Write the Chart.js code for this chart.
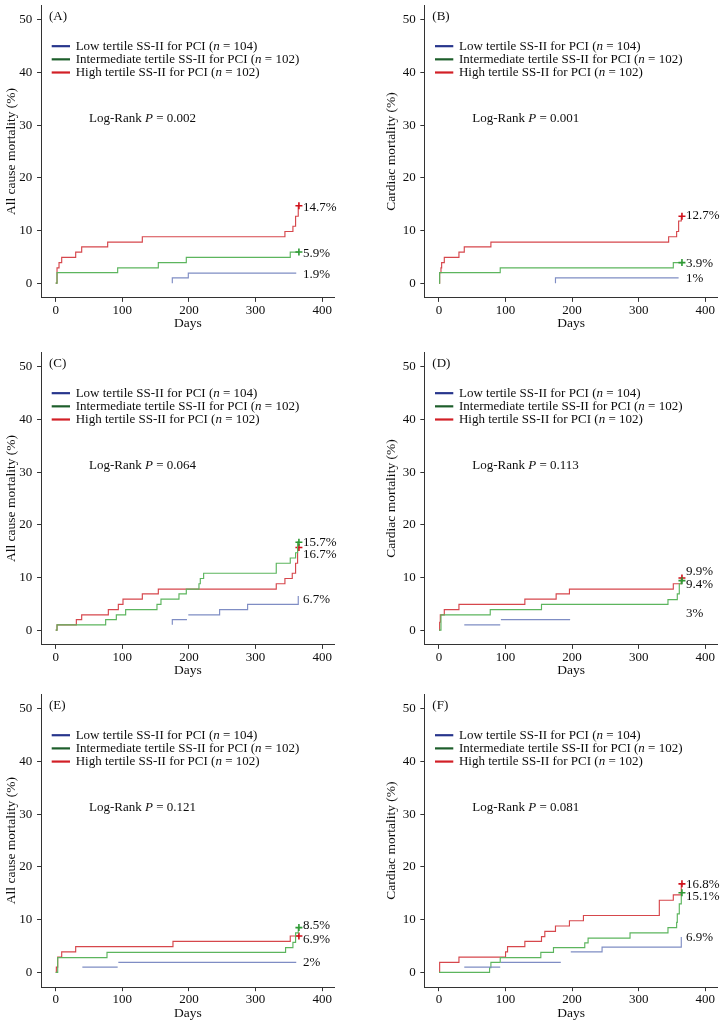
<!DOCTYPE html>
<html>
<head>
<meta charset="utf-8">
<script src="https://cdn.jsdelivr.net/npm/chart.js@4.4.1/dist/chart.umd.min.js"></script>
<style>
  html, body { margin: 0; padding: 0; background: #fff; }
  body { position: relative; width: 723px; height: 1024px; overflow: hidden; }
  canvas { position: absolute; }
</style>
</head>
<body>
<script>
// ticks and labels
const xTicks = [0, 100, 200, 300, 400];
const yTicks = [0, 10, 20, 30, 40, 50];
const groupNames = ['Low tertile SS-II for PCI', 'Intermediate tertile SS-II for PCI', 'High tertile SS-II for PCI'];
const groupN = [104, 102, 102];
const panelTags = ['(A)', '(B)', '(C)', '(D)', '(E)', '(F)'];
const yTitles = ['All cause mortality (%)', 'Cardiac mortality (%)', 'All cause mortality (%)',
                 'Cardiac mortality (%)', 'All cause mortality (%)', 'Cardiac mortality (%)'];
const logRankP = ['0.002', '0.001', '0.064', '0.113', '0.121', '0.081'];

// Kaplan-Meier curves, [day, cumulative %]; null breaks the line
const aLow  = [[175, 0], [175, 1], [199, 1.9], [361, 1.9]];
const aMid  = [[0, 0], [2, 2], [93, 2.9], [154, 3.9], [196, 4.9], [352, 5.9], [365, 5.9]];
const aHigh = [[0, 0], [2, 2.9], [5, 3.9], [9, 4.9], [30, 5.9], [39, 6.9], [78, 7.8], [130, 8.8],
               [344, 9.8], [356, 10.8], [360, 12.7], [364, 14.7], [365, 14.7]];

const bLow  = [[175, 0], [175, 1], [360, 1]];
const bMid  = [[0, 0], [1, 2], [92, 2.9], [352, 3.9], [365, 3.9]];
const bHigh = [[0, 0], [1, 2], [3, 2.9], [4, 3.9], [8, 4.9], [30, 5.9], [38, 6.9], [78, 7.8],
               [345, 8.8], [357, 9.8], [360, 11.8], [364, 12.7], [365, 12.7]];

const cLow  = [[175, 1], [175, 2], [197, 2], [198, null], [199, 2.9], [246, 3.9], [288, 4.9],
               [364, 4.9], [364, 6.5]];
const cMid  = [[0, 0], [2, 1], [75, 2], [91, 2.9], [105, 3.9], [152, 4.9], [158, 5.9], [185, 6.9],
               [196, 7.8], [215, 8.8], [217, 9.8], [222, 10.8], [331, 12.7], [352, 13.7],
               [360, 14.7], [363, 16.7], [365, 16.7]];
const cHigh = [[0, 0], [2, 1], [31, 2], [39, 2.9], [79, 3.9], [94, 4.9], [101, 5.9], [130, 6.9],
               [154, 7.8], [331, 8.8], [344, 9.8], [355, 10.8], [360, 12.7], [363, 15.7], [365, 15.7]];

const dLow  = [[38, 1], [92, 1], [92.5, null], [93, 2], [197, 2]];
const dMid  = [[0, 0], [3, 2.9], [77, 3.9], [154, 4.9], [344, 5.8], [358, 6.9], [361, 8.8],
               [364, 9.4], [365, 9.4]];
const dHigh = [[0, 0], [1, 1.5], [2, 2.9], [8, 3.9], [30, 4.9], [129, 5.9], [176, 6.9], [196, 7.8],
               [352, 8.8], [364, 9.9], [365, 9.9]];

const eLow  = [[40, 1], [93, 1], [93.5, null], [94, 1.9], [361, 1.9]];
const eMid  = [[0, 0], [3, 2.8], [77, 3.8], [345, 4.7], [356, 5.7], [360, 7.5], [364, 8.5], [365, 8.5]];
const eHigh = [[0, 0], [1, 1], [3, 2.9], [9, 3.9], [30, 4.9], [176, 5.9], [352, 6.9], [365, 6.9]];

const fLow  = [[38, 1], [92, 1], [92.5, null], [93, 1.9], [183, 1.9], [190, null], [198, 3.9],
               [245, 4.8], [364, 4.8], [364, 6.7]];
const fMid  = [[0, 0], [76, 0.9], [78, 1.9], [92, 2.8], [153, 3.8], [172, 4.7], [219, 5.6], [224, 6.5],
               [287, 7.5], [344, 8.5], [357, 9.5], [358, 11.1], [361, 13], [364, 15.1], [365, 15.1]];
const fHigh = [[0, 0], [1, 1.9], [30, 2.9], [100, 3.9], [103, 4.9], [129, 5.9], [154, 6.8], [159, 7.8],
               [175, 8.8], [196, 9.8], [217, 10.8], [331, 13.7], [352, 14.7], [364, 16.8], [365, 16.8]];

// end-of-curve labels, [text, height in %]
const aEnds = [['14.7%', 14.4], ['5.9%', 5.6], ['1.9%', 1.6]];
const bEnds = [['12.7%', 12.8], ['3.9%', 3.7], ['1%', 0.9]];
const cEnds = [['15.7%', 16.6], ['16.7%', 14.4], ['6.7%', 5.8]];
const dEnds = [['9.9%', 11.1], ['9.4%', 8.7], ['3%', 3.1]];
const eEnds = [['8.5%', 8.8], ['6.9%', 6.3], ['2%', 1.9]];
const fEnds = [['16.8%', 16.6], ['15.1%', 14.4], ['6.9%', 6.6]];

const panelCurves = [[aLow, aMid, aHigh], [bLow, bMid, bHigh], [cLow, cMid, cHigh],
                     [dLow, dMid, dHigh], [eLow, eMid, eHigh], [fLow, fMid, fHigh]];
const panelEnds = [aEnds, bEnds, cEnds, dEnds, eEnds, fEnds];

// look
const FONT = '"Liberation Serif", "Times New Roman", serif';
const INK = '#0d0d0d';
const AXIS = '#333333';
const lineColors = ['#7f8dc4', '#5cb55e', '#d6474c'];
const keyColors = ['#27358c', '#1d5e2b', '#d21f26'];
const crossColors = [null, '#2f9a35', '#d0101a'];

// page geometry
const colZero = [55.7, 439];        // pixel of day 0
const rowZero = [283, 630, 972.3];  // pixel of 0 %
const PX_DAY = 0.6667, PX_PCT = 5.314;
const X_MIN = -22, X_MAX = 419, Y_MIN = -2.8, Y_MAX = 52.8;
const Y_BOX = 45, X_BOX = 34;
const yTitleGap = [29.3, 32.6];

function rich(ctx, parts, x, y) {
  let cx = x;
  parts.forEach(([t, it]) => {
    ctx.font = (it ? 'italic ' : '') + '13px ' + FONT;
    ctx.fillText(t, cx, y);
    cx += ctx.measureText(t).width;
  });
}

function notes(i) {
  return {
    id: 'notes' + i,
    afterDraw(chart) {
      const { ctx, scales: { x, y } } = chart;
      ctx.save();
      ctx.fillStyle = INK;
      ctx.textBaseline = 'middle';
      ctx.textAlign = 'left';
      rich(ctx, [[panelTags[i], false]], x.getPixelForValue(-10), y.getPixelForValue(50.6));
      groupNames.forEach((name, k) => {
        const yy = y.getPixelForValue(45 - 2.5 * k);
        ctx.strokeStyle = keyColors[k];
        ctx.lineWidth = 2.2;
        ctx.beginPath();
        ctx.moveTo(x.getPixelForValue(-6), yy);
        ctx.lineTo(x.getPixelForValue(21.5), yy);
        ctx.stroke();
        rich(ctx, [[name + ' (', false], ['n', true], [' = ' + groupN[k] + ')', false]],
             x.getPixelForValue(30), yy);
      });
      rich(ctx, [['Log-Rank ', false], ['P', true], [' = ' + logRankP[i], false]],
           x.getPixelForValue(50), y.getPixelForValue(31.2));
      panelEnds[i].forEach(([t, v]) => rich(ctx, [[t, false]], x.getPixelForValue(371), y.getPixelForValue(v)));
      ctx.restore();
    }
  };
}

function axisLook(ticks) {
  return {
    type: 'linear',
    bounds: 'data',
    afterBuildTicks: ax => { ax.ticks = ticks.map(v => ({ value: v })); },
    grid: { drawOnChartArea: false, drawTicks: true, tickLength: 4, color: AXIS, lineWidth: 1 },
    border: { display: true, color: AXIS, width: 1 },
    ticks: { color: INK, font: { family: FONT, size: 13 }, autoSkip: false, maxRotation: 0 }
  };
}

panelCurves.forEach((curves, i) => {
  const r = Math.floor(i / 2), c = i % 2;
  const left = colZero[c] + X_MIN * PX_DAY;
  const right = colZero[c] + X_MAX * PX_DAY;
  const top = rowZero[r] - Y_MAX * PX_PCT;
  const bottom = rowZero[r] - Y_MIN * PX_PCT;

  const cvLeft = Math.floor(left - Y_BOX);
  const cvTop = Math.floor(top - 2);
  const cvW = Math.ceil(right + 4 - cvLeft);
  const cvH = Math.ceil(bottom + X_BOX - cvTop);

  const cv = document.createElement('canvas');
  cv.width = cvW; cv.height = cvH;
  cv.style.left = cvLeft + 'px'; cv.style.top = cvTop + 'px';
  cv.style.width = cvW + 'px'; cv.style.height = cvH + 'px';
  document.body.appendChild(cv);

  const xAxis = axisLook(xTicks);
  Object.assign(xAxis, {
    min: X_MIN, max: X_MAX,
    afterFit: s => { s.height = X_BOX; s.paddingLeft = 0; s.paddingRight = 0; s.paddingTop = 0; s.paddingBottom = 0; },
    title: { display: true, text: 'Days', color: INK, font: { family: FONT, size: 13.5 }, padding: 0 }
  });
  xAxis.ticks.padding = 0.5;

  const yAxis = axisLook(yTicks);
  Object.assign(yAxis, {
    min: Y_MIN, max: Y_MAX,
    afterFit: s => { s.width = Y_BOX; s.paddingLeft = 0; s.paddingRight = 0; s.paddingTop = 0; s.paddingBottom = 0; },
    title: { display: true, text: yTitles[i], color: INK, font: { family: FONT, size: 13.5 },
             padding: { top: Y_BOX - yTitleGap[c] - 8.1, bottom: 0 } }
  });
  yAxis.ticks.padding = 4.7;

  new Chart(cv, {
    type: 'line',
    data: {
      datasets: curves.map((pts, k) => ({
        label: groupNames[k],
        data: pts.map(([d, v]) => ({ x: d, y: v })),
        stepped: 'before',
        borderColor: lineColors[k],
        borderWidth: 1.15,
        fill: false,
        spanGaps: false,
        pointStyle: 'cross',
        pointRadius: ctx => (crossColors[k] && ctx.dataIndex === pts.length - 1) ? 3.5 : 0,
        pointHoverRadius: 0,
        pointBorderColor: crossColors[k] || lineColors[k],
        pointBorderWidth: 1.6
      }))
    },
    options: {
      responsive: false,
      animation: false,
      events: [],
      layout: {
        padding: {
          left: left - Y_BOX - cvLeft,
          top: top - cvTop,
          right: cvLeft + cvW - right,
          bottom: cvTop + cvH - X_BOX - bottom
        }
      },
      plugins: { legend: { display: false }, tooltip: { enabled: false } },
      scales: { x: xAxis, y: yAxis }
    },
    plugins: [notes(i)]
  });
});
</script>
</body>
</html>
